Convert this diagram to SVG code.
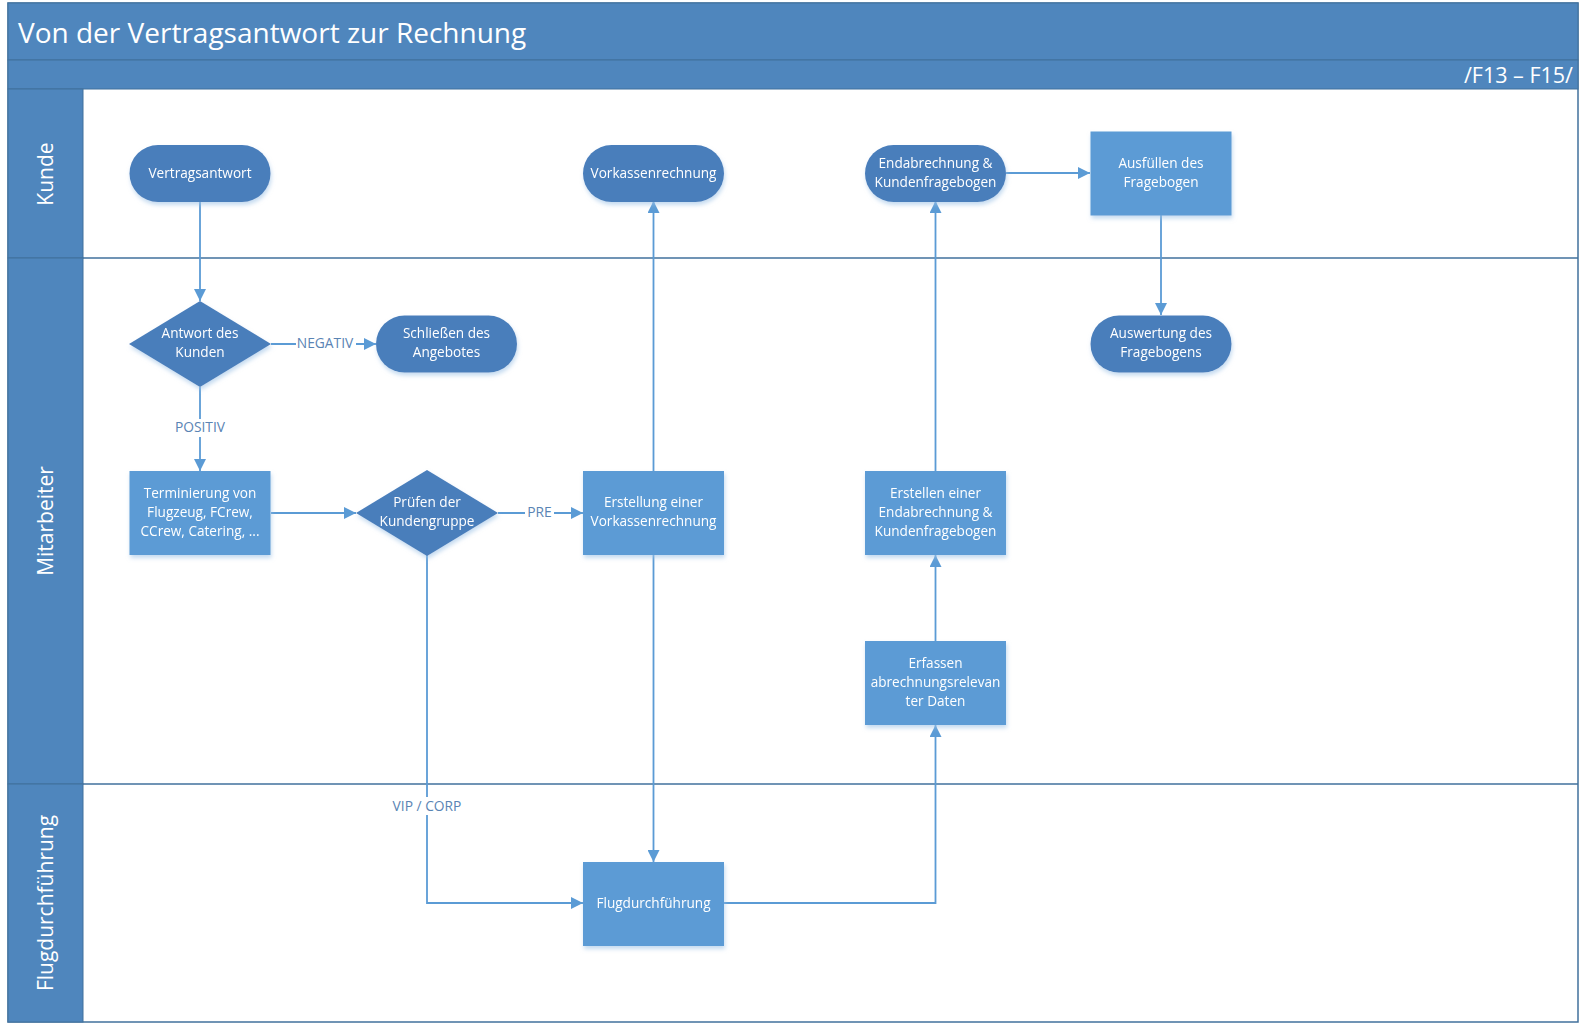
<svg xmlns="http://www.w3.org/2000/svg" width="1586" height="1034" viewBox="0 0 1586 1034">
<defs>
<style>
.hdr{fill:#4f86bd;stroke:#41719c;stroke-width:1}
.pill{fill:#4a7ebb}
.box{fill:#5b9bd5}
.nt{font-family:"Open Sans","Noto Sans",sans-serif;font-size:13.6px;fill:#ffffff;text-anchor:middle}
.lt{font-family:"Open Sans","Noto Sans",sans-serif;font-size:13.8px;fill:#5a84b4;text-anchor:middle}
.ln{fill:none;stroke:#5b9bd5;stroke-width:1.8}
.lanelbl{font-family:"Open Sans","Noto Sans",sans-serif;font-size:21px;fill:#ffffff;text-anchor:middle}
</style>
<marker id="ah" viewBox="0 0 12 12" refX="12" refY="6" markerWidth="12" markerHeight="12" markerUnits="userSpaceOnUse" orient="auto">
<path d="M0,0 L12,6 L0,12 Z" fill="#5b9bd5"/>
</marker>
<filter id="sh" x="-10%" y="-10%" width="130%" height="140%">
<feDropShadow dx="1" dy="3" stdDeviation="2" flood-color="#9dc3e6" flood-opacity="0.6"/>
</filter>
</defs>

<g id="frame">
<rect x="8" y="3" width="1570" height="1019" fill="#ffffff" stroke="#41719c" stroke-width="1.5"/>
<rect class="hdr" x="8" y="3" width="1570" height="57"/>
<rect class="hdr" x="8" y="60" width="1570" height="29"/>
<text x="18" y="43" font-family="'Open Sans','Noto Sans',sans-serif" font-size="28" fill="#ffffff">Von der Vertragsantwort zur Rechnung</text>
<text x="1573" y="83" font-family="'Open Sans','Noto Sans',sans-serif" font-size="21.5" fill="#ffffff" text-anchor="end">/F13 – F15/</text>
</g>

<g id="lane-kunde">
<rect class="hdr" x="8" y="89" width="75" height="169"/>
<line x1="83" y1="258" x2="1578" y2="258" stroke="#41719c" stroke-width="1.5"/>
<text class="lanelbl" transform="translate(53,174) rotate(-90)">Kunde</text>
</g>
<g id="lane-mitarbeiter">
<rect class="hdr" x="8" y="258" width="75" height="526"/>
<line x1="83" y1="784" x2="1578" y2="784" stroke="#41719c" stroke-width="1.5"/>
<text class="lanelbl" transform="translate(53,521) rotate(-90)">Mitarbeiter</text>
</g>
<g id="lane-flug">
<rect class="hdr" x="8" y="784" width="75" height="238"/>
<text class="lanelbl" transform="translate(53,903) rotate(-90)">Flugdurchführung</text>
</g>

<g id="connectors">
<line class="ln" x1="200" y1="201" x2="200" y2="301" marker-end="url(#ah)"/>
<line class="ln" x1="271" y1="344" x2="376" y2="344" marker-end="url(#ah)"/>
<line class="ln" x1="200" y1="387" x2="200" y2="471" marker-end="url(#ah)"/>
<line class="ln" x1="271" y1="513" x2="356" y2="513" marker-end="url(#ah)"/>
<line class="ln" x1="498" y1="513" x2="583" y2="513" marker-end="url(#ah)"/>
<polyline class="ln" points="427,555 427,903 583,903" marker-end="url(#ah)"/>
<line class="ln" x1="653.5" y1="471" x2="653.5" y2="201" marker-end="url(#ah)"/>
<line class="ln" x1="653.5" y1="555" x2="653.5" y2="862" marker-end="url(#ah)"/>
<polyline class="ln" points="724,903 935.5,903 935.5,725" marker-end="url(#ah)"/>
<line class="ln" x1="935.5" y1="641" x2="935.5" y2="555" marker-end="url(#ah)"/>
<line class="ln" x1="935.5" y1="471" x2="935.5" y2="201" marker-end="url(#ah)"/>
<line class="ln" x1="1006" y1="173" x2="1090" y2="173" marker-end="url(#ah)"/>
<line class="ln" x1="1161" y1="215" x2="1161" y2="315" marker-end="url(#ah)"/>
<rect x="296" y="335" width="60" height="18" fill="#ffffff"/>
<text class="lt" x="325" y="348">NEGATIV</text>
<rect x="171" y="419" width="58" height="18" fill="#ffffff"/>
<text class="lt" x="200" y="432">POSITIV</text>
<rect x="525" y="504" width="29" height="18" fill="#ffffff"/>
<text class="lt" x="539.5" y="517">PRE</text>
<rect x="388" y="797" width="78" height="18" fill="#ffffff"/>
<text class="lt" x="427" y="811">VIP / CORP</text>
</g>

<g id="n-vertragsantwort" filter="url(#sh)">
<rect class="pill" x="129.5" y="145" width="141" height="57" rx="28.5"/>
<text class="nt" x="200" y="178">Vertragsantwort</text>
</g>
<g id="n-vorkassenrechnung" filter="url(#sh)">
<rect class="pill" x="583" y="145" width="141" height="57" rx="28.5"/>
<text class="nt" x="653.5" y="178">Vorkassenrechnung</text>
</g>
<g id="n-endabrechnung-pill" filter="url(#sh)">
<rect class="pill" x="865" y="145" width="141" height="57" rx="28.5"/>
<text class="nt" x="935.5" y="168">Endabrechnung &amp;</text>
<text class="nt" x="935.5" y="187">Kundenfragebogen</text>
</g>
<g id="n-ausfuellen" filter="url(#sh)">
<rect class="box" x="1090.5" y="131.5" width="141" height="84"/>
<text class="nt" x="1161" y="168">Ausfüllen des</text>
<text class="nt" x="1161" y="187">Fragebogen</text>
</g>
<g id="n-antwort" filter="url(#sh)">
<polygon class="pill" points="200,301 271,344 200,387 129,344"/>
<text class="nt" x="200" y="338">Antwort des</text>
<text class="nt" x="200" y="357">Kunden</text>
</g>
<g id="n-schliessen" filter="url(#sh)">
<rect class="pill" x="376" y="315.5" width="141" height="57" rx="28.5"/>
<text class="nt" x="446.5" y="338">Schließen des</text>
<text class="nt" x="446.5" y="357">Angebotes</text>
</g>
<g id="n-auswertung" filter="url(#sh)">
<rect class="pill" x="1090.5" y="315.5" width="141" height="57" rx="28.5"/>
<text class="nt" x="1161" y="338">Auswertung des</text>
<text class="nt" x="1161" y="357">Fragebogens</text>
</g>
<g id="n-terminierung" filter="url(#sh)">
<rect class="box" x="129.5" y="471" width="141" height="84"/>
<text class="nt" x="200" y="498">Terminierung von</text>
<text class="nt" x="200" y="517">Flugzeug, FCrew,</text>
<text class="nt" x="200" y="536">CCrew, Catering, ...</text>
</g>
<g id="n-pruefen" filter="url(#sh)">
<polygon class="pill" points="427,470 498,513 427,556 356,513"/>
<text class="nt" x="427" y="507">Prüfen der</text>
<text class="nt" x="427" y="526">Kundengruppe</text>
</g>
<g id="n-erstellung-vorkasse" filter="url(#sh)">
<rect class="box" x="583" y="471" width="141" height="84"/>
<text class="nt" x="653.5" y="507">Erstellung einer</text>
<text class="nt" x="653.5" y="526">Vorkassenrechnung</text>
</g>
<g id="n-erstellen-endabrechnung" filter="url(#sh)">
<rect class="box" x="865" y="471" width="141" height="84"/>
<text class="nt" x="935.5" y="498">Erstellen einer</text>
<text class="nt" x="935.5" y="517">Endabrechnung &amp;</text>
<text class="nt" x="935.5" y="536">Kundenfragebogen</text>
</g>
<g id="n-erfassen" filter="url(#sh)">
<rect class="box" x="865" y="641" width="141" height="84"/>
<text class="nt" x="935.5" y="668">Erfassen</text>
<text class="nt" x="935.5" y="687">abrechnungsrelevan</text>
<text class="nt" x="935.5" y="706">ter Daten</text>
</g>
<g id="n-flugdurchfuehrung" filter="url(#sh)">
<rect class="box" x="583" y="862" width="141" height="84"/>
<text class="nt" x="653.5" y="908">Flugdurchführung</text>
</g>
</svg>
